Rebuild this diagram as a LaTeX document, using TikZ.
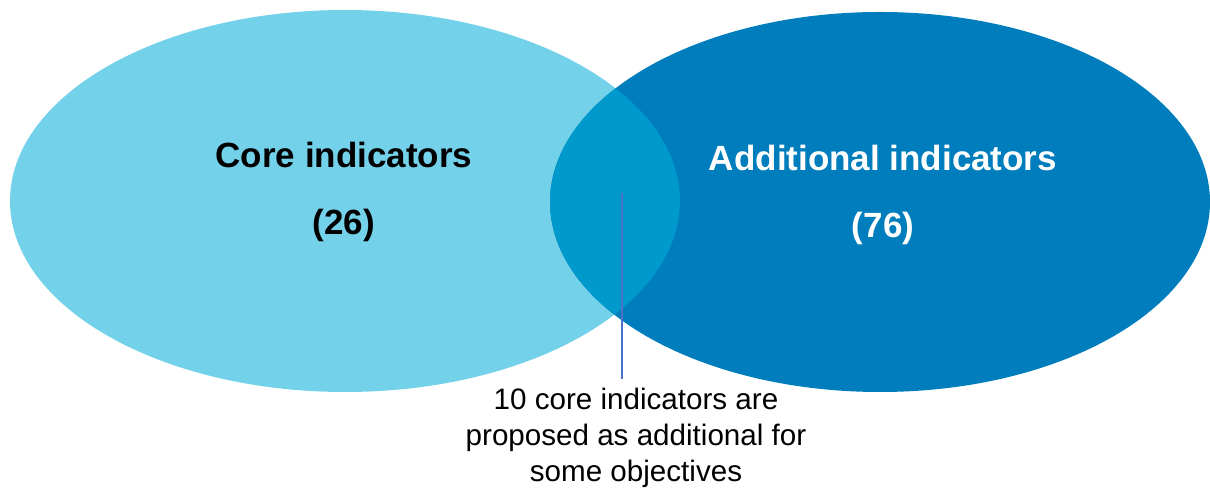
\documentclass[tikz,border=0pt]{standalone}
\usepackage{fontspec}
\setmainfont{Liberation Sans}
\usetikzlibrary{positioning}
\definecolor{corecol}{HTML}{73D1EA}
\definecolor{addcol}{HTML}{007DBC}
\definecolor{bothcol}{HTML}{0099CC}
\definecolor{pincol}{HTML}{4A72C8}
\tikzstyle{title}=[font=\bfseries\fontsize{17.5}{21}\selectfont, inner sep=0pt]
\tikzstyle{note}=[font=\fontsize{14.8}{18}\selectfont, align=center, inner sep=0pt]

\begin{document}
\begin{tikzpicture}[x=0.5pt,y=-0.5pt]
    \useasboundingbox (0,0) rectangle (1210,490);
    % the two sets
    \fill[corecol] (345,201) ellipse [x radius=335, y radius=191];
    \fill[addcol] (880,202) ellipse [x radius=330, y radius=190];
    \begin{scope}
        \clip (345,201) ellipse [x radius=335, y radius=191];
        \fill[bothcol] (880,202) ellipse [x radius=330, y radius=190];
    \end{scope}
    \node [title] (core) at (344,155) {Core indicators};
    \node [title, below=35pt of core.center, anchor=center] (corenum) {(26)};
    \node [title, text=white] (add) at (883,158) {Additional indicators};
    \node [title, text=white, below=35pt of add.center, anchor=center] (addnum) {(76)};
    \coordinate (mark) at (622,193);
    \node [note, anchor=north] (shared) at (636,388) {10 core indicators are\\proposed as additional for\\some objectives};
    \draw[pincol, line width=1pt, shorten >=4.5pt] (mark) -- (mark |- shared.north);
\end{tikzpicture}
\end{document}
